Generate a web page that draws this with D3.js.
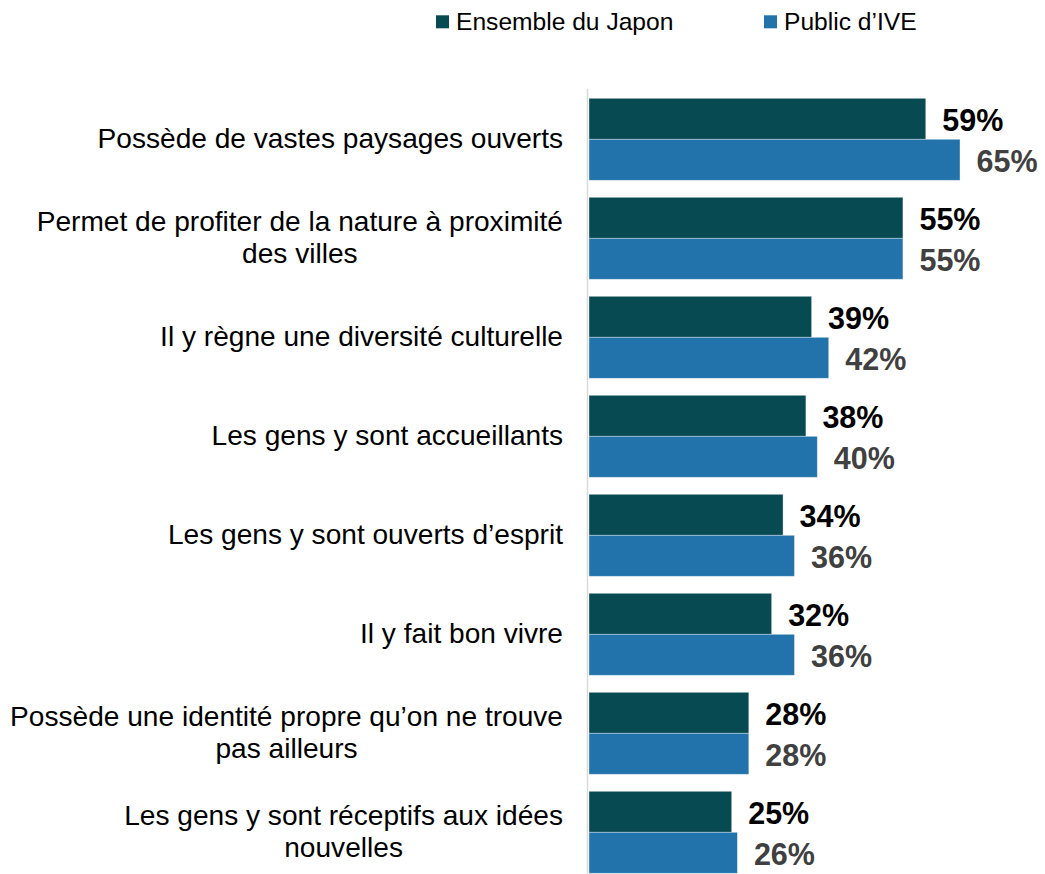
<!DOCTYPE html>
<html>
<head>
<meta charset="utf-8">
<script src="https://cdn.jsdelivr.net/npm/d3@7"></script>
<style>
  body { margin: 0; background: #fff; }
  svg { display: block; font-family: Arial, "Liberation Sans", sans-serif; }
</style>
</head>
<body>
<script>
// chart values
var categories = [
    ["Possède de vastes paysages ouverts"],
    ["Permet de profiter de la nature à proximité", "des villes"],
    ["Il y règne une diversité culturelle"],
    ["Les gens y sont accueillants"],
    ["Les gens y sont ouverts d’esprit"],
    ["Il y fait bon vivre"],
    ["Possède une identité propre qu’on ne trouve", "pas ailleurs"],
    ["Les gens y sont réceptifs aux idées", "nouvelles"]
];
var japon = [59, 55, 39, 38, 34, 32, 28, 25];
var ive = [65, 55, 42, 40, 36, 36, 28, 26];
var seriesNames = ["Ensemble du Japon", "Public d’IVE"];

var WIDTH = 1045, HEIGHT = 874;
var colors = ["#084a52", "#2273ab"];
var labelColors = ["#000000", "#404040"];

var svg = d3.select("body").append("svg")
        .attr("width", WIDTH)
        .attr("height", HEIGHT);

var x = d3.scaleLinear()
        .domain([0, 65])
        .range([589, 960]);

var y = d3.scaleBand()
        .domain(d3.range(categories.length))
        .range([98.3, 873.3])
        .paddingInner(0.1717)
        .paddingOuter(0);

var inner = d3.scaleBand()
        .domain([0, 1])
        .range([0, y.bandwidth()]);

// legend
var legendX = [436, 764];
var legend = svg.selectAll("g.legend")
        .data(seriesNames)
        .enter()
        .append("g")
        .attr("class", "legend");
legend.append("rect")
        .attr("x", function(d, i){ return legendX[i]; })
        .attr("y", 15.3)
        .attr("width", 13)
        .attr("height", 13)
        .attr("fill", function(d, i){ return colors[i]; });
legend.append("text")
        .attr("x", function(d, i){ return legendX[i] + 20; })
        .attr("y", 29.5)
        .attr("font-size", "24.6px")
        .attr("fill", "#000")
        .text(function(d){ return d; });

// bars
var rows = categories.map(function(c, i){
    return {i: i, vals: [japon[i], ive[i]]};
});

var group = svg.selectAll("g.row")
        .data(rows)
        .enter()
        .append("g")
        .attr("class", "row")
        .attr("transform", function(d){ return "translate(0," + y(d.i) + ")"; });

group.selectAll("rect")
        .data(function(d){ return d.vals; })
        .enter()
        .append("rect")
        .attr("x", x(0))
        .attr("y", function(d, j){ return inner(j); })
        .attr("width", function(d){ return x(d) - x(0); })
        .attr("height", inner.bandwidth())
        .attr("fill", function(d, j){ return colors[j]; })
        .attr("stroke", "#ffffff")
        .attr("stroke-opacity", 0.45)
        .attr("stroke-width", 0.8);

group.selectAll("text.val")
        .data(function(d){ return d.vals; })
        .enter()
        .append("text")
        .attr("class", "val")
        .attr("x", function(d){ return x(d) + 16.5; })
        .attr("y", function(d, j){ return inner(j) + inner.bandwidth() / 2; })
        .attr("dy", "0.39em")
        .attr("font-size", "30.5px")
        .attr("font-weight", "bold")
        .attr("fill", function(d, j){ return labelColors[j]; })
        .text(function(d){ return d + "%"; });

// category labels
var LINE = 31.7;
var labelRight = 563;
var labels = svg.selectAll("text.cat")
        .data(categories)
        .enter()
        .append("text")
        .attr("class", "cat")
        .attr("font-size", "28.1px")
        .attr("fill", "#000")
        .attr("text-anchor", "middle");

labels.each(function(lines, i){
    var t = d3.select(this);
    var cy = y(i) + y.bandwidth() / 2;
    lines.forEach(function(line, k){
        t.append("tspan")
                .attr("y", cy + (k - (lines.length - 1) / 2) * LINE)
                .attr("dy", "0.32em")
                .text(line);
    });
    var maxW = 0;
    t.selectAll("tspan").each(function(){
        maxW = Math.max(maxW, this.getComputedTextLength());
    });
    t.selectAll("tspan").attr("x", labelRight - maxW / 2);
});

// vertical axis line
svg.append("line")
        .attr("x1", 587.5)
        .attr("x2", 587.5)
        .attr("y1", 89)
        .attr("y2", HEIGHT)
        .attr("stroke", "#d9d9d9")
        .attr("stroke-width", 1.5);
</script>
</body>
</html>
